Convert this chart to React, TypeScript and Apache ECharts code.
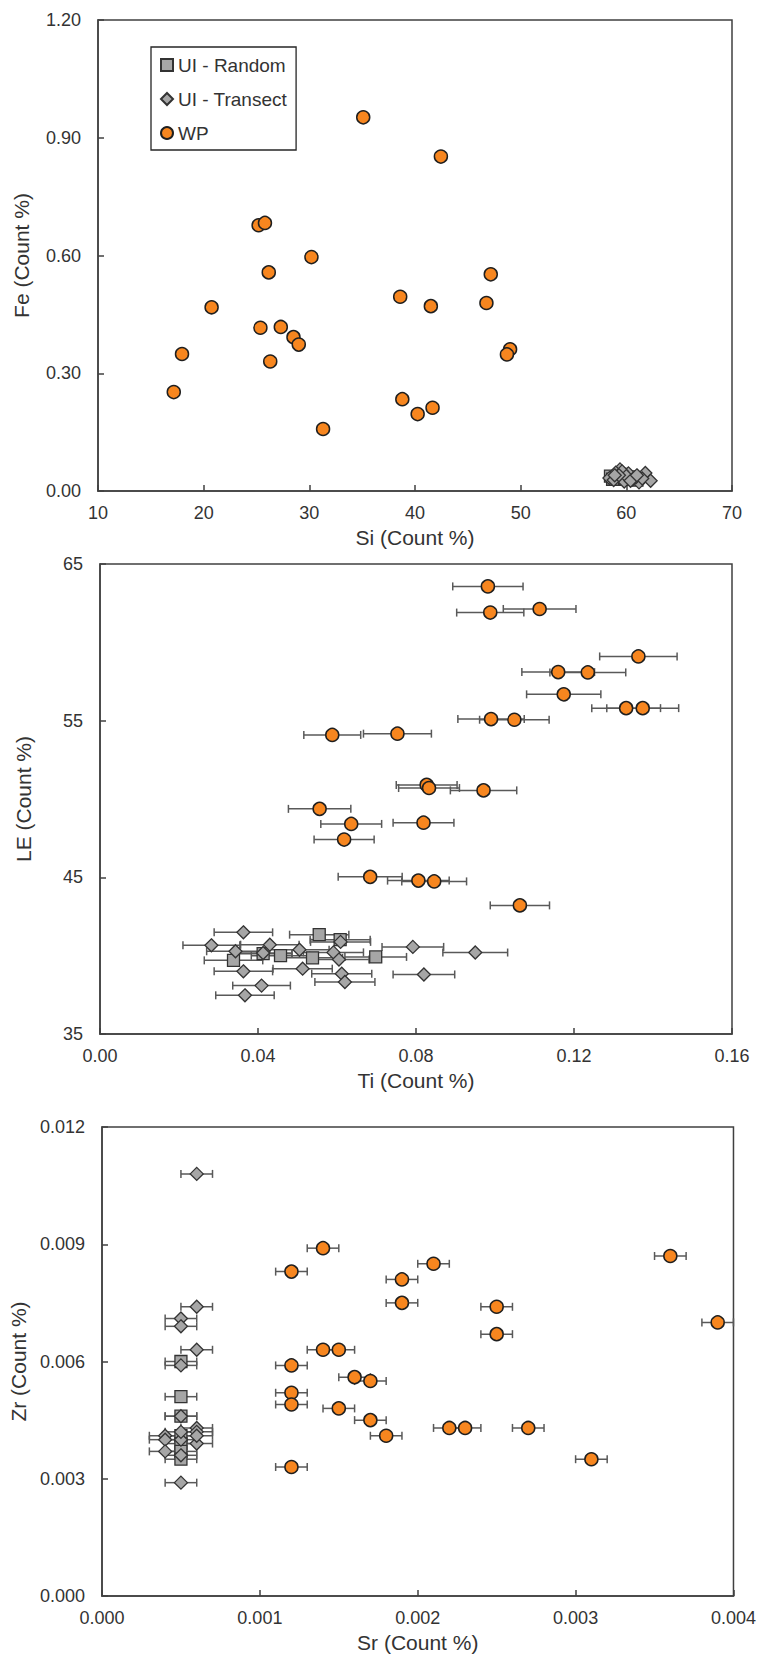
import { useEffect, useRef } from 'react';
import * as echarts from 'echarts';

// Panel 1: Si vs Fe (no error bars)
const siFeRandom = [
  [58.5, 0.038], [59.2, 0.033], [59.9, 0.030], [60.5, 0.036],
  [59.6, 0.042], [61.0, 0.028], [58.7, 0.030],
];
const siFeTransect = [
  [59.4, 0.055], [59.0, 0.047], [58.4, 0.033], [59.8, 0.024], [60.2, 0.045],
  [60.6, 0.030], [61.2, 0.022], [61.8, 0.046], [62.3, 0.026], [60.9, 0.035],
  [59.6, 0.050], [58.8, 0.028], [60.0, 0.038], [61.5, 0.032], [59.3, 0.040],
  [60.4, 0.026], [58.9, 0.040], [61.0, 0.040],
];
const siFeWP = [
  [35.1, 0.952], [42.45, 0.852], [25.2, 0.677], [25.8, 0.683], [30.2, 0.596],
  [26.16, 0.557], [47.17, 0.552], [38.6, 0.495], [20.75, 0.468], [41.5, 0.471],
  [46.76, 0.479], [25.37, 0.416], [27.3, 0.418], [28.5, 0.392], [29.0, 0.373],
  [17.95, 0.349], [49.0, 0.361], [48.7, 0.348], [26.3, 0.330], [17.17, 0.252],
  [38.8, 0.234], [41.66, 0.212], [40.25, 0.196], [31.3, 0.158],
];

// Panel 2: Ti vs LE, [x, y, x error]
const tiLeRandom = [
  [0.0555, 41.34, 0.0075], [0.0608, 41.02, 0.0076], [0.0338, 39.7, 0.0074],
  [0.0413, 40.13, 0.0073], [0.0457, 40.0, 0.0074], [0.0538, 39.86, 0.0076],
  [0.0698, 39.92, 0.0078],
];
const tiLeTransect = [
  [0.0363, 41.49, 0.0074], [0.0282, 40.66, 0.0072], [0.0343, 40.28, 0.0073],
  [0.043, 40.7, 0.0074], [0.0413, 40.17, 0.0073], [0.0505, 40.38, 0.0075],
  [0.0591, 40.21, 0.0076], [0.0609, 40.88, 0.0076], [0.0605, 39.75, 0.0076],
  [0.0792, 40.56, 0.0078], [0.0363, 39.0, 0.0074], [0.0513, 39.17, 0.0075],
  [0.0612, 38.85, 0.0076], [0.062, 38.32, 0.0076], [0.0409, 38.09, 0.0073],
  [0.0367, 37.47, 0.0074], [0.095, 40.2, 0.0082], [0.082, 38.8, 0.0078],
];
const tiLeWP = [
  [0.0982, 63.57, 0.0089], [0.0988, 61.9, 0.0085], [0.1113, 62.13, 0.0092],
  [0.1363, 59.1, 0.0098], [0.116, 58.1, 0.0092], [0.1235, 58.08, 0.0096],
  [0.1174, 56.68, 0.0094], [0.1332, 55.8, 0.0087], [0.1374, 55.8, 0.0091],
  [0.099, 55.1, 0.0084], [0.1049, 55.06, 0.0088], [0.0753, 54.17, 0.0086],
  [0.0588, 54.09, 0.0072], [0.0827, 50.9, 0.0077], [0.0833, 50.7, 0.0077],
  [0.0971, 50.55, 0.0084], [0.0556, 49.37, 0.0079], [0.0636, 48.41, 0.0077],
  [0.0819, 48.49, 0.0077], [0.0618, 47.41, 0.0076], [0.0684, 45.03, 0.0081],
  [0.0806, 44.79, 0.0078], [0.0846, 44.74, 0.0082], [0.1063, 43.21, 0.0075],
];

// Panel 3: Sr vs Zr, [x, y, x error]
const srZrRandom = [
  [0.0005, 0.0060, 0.0001], [0.0005, 0.0051, 0.0001], [0.0005, 0.0046, 0.0001],
  [0.0005, 0.0041, 0.0001], [0.0005, 0.0039, 0.0001], [0.0005, 0.0037, 0.0001],
  [0.0005, 0.0035, 0.0001],
];
const srZrTransect = [
  [0.0006, 0.0108, 0.0001], [0.0006, 0.0074, 0.0001], [0.0005, 0.0071, 0.0001],
  [0.0005, 0.0069, 0.0001], [0.0006, 0.0063, 0.0001], [0.0005, 0.0059, 0.0001],
  [0.0005, 0.0046, 0.0001], [0.0006, 0.0043, 0.0001], [0.0006, 0.0042, 0.0001],
  [0.0004, 0.0041, 0.0001], [0.0004, 0.0040, 0.0001], [0.0005, 0.0040, 0.0001],
  [0.0006, 0.0039, 0.0001], [0.0004, 0.0037, 0.0001], [0.0005, 0.0036, 0.0001],
  [0.0005, 0.0029, 0.0001], [0.0005, 0.0042, 0.0001], [0.0006, 0.0041, 0.0001],
];
const srZrWP = [
  [0.0014, 0.0089, 0.0001], [0.0012, 0.0083, 0.0001], [0.0021, 0.0085, 0.0001],
  [0.0019, 0.0081, 0.0001], [0.0019, 0.0075, 0.0001], [0.0025, 0.0074, 0.0001],
  [0.0025, 0.0067, 0.0001], [0.0036, 0.0087, 0.0001], [0.0039, 0.0070, 0.0001],
  [0.0014, 0.0063, 0.0001], [0.0015, 0.0063, 0.0001], [0.0012, 0.0059, 0.0001],
  [0.0016, 0.0056, 0.0001], [0.0017, 0.0055, 0.0001], [0.0012, 0.0052, 0.0001],
  [0.0012, 0.0049, 0.0001], [0.0015, 0.0048, 0.0001], [0.0017, 0.0045, 0.0001],
  [0.0022, 0.0043, 0.0001], [0.0023, 0.0043, 0.0001], [0.0027, 0.0043, 0.0001],
  [0.0018, 0.0041, 0.0001], [0.0012, 0.0033, 0.0001], [0.0031, 0.0035, 0.0001],
];

const FONT = 'Liberation Sans, Arial, sans-serif';
const TEXT = '#333333';
const AXIS = '#404040';
const ORANGE = '#F7861F';
const GRAY = '#A6A6A6';

function axis(
  idx: number,
  name: string,
  min: number,
  max: number,
  interval: number,
  digits: number,
  isX: boolean
) {
  return {
    type: 'value',
    gridIndex: idx,
    name,
    nameLocation: 'middle',
    nameGap: isX ? 36 : 66,
    nameTextStyle: { fontFamily: FONT, fontSize: 21, color: TEXT },
    min,
    max,
    interval,
    splitLine: { show: false },
    axisLine: { show: true, lineStyle: { color: AXIS, width: 1.5 } },
    axisTick: { show: true, inside: true, length: 6, lineStyle: { color: AXIS, width: 1.5 } },
    axisLabel: {
      fontFamily: FONT,
      fontSize: 18,
      color: TEXT,
      margin: isX ? 13 : 17,
      formatter: (v: number) => v.toFixed(digits),
    },
  };
}

function scatter(name: string, data: number[][], idx: number) {
  const symbol = name === 'WP' ? 'circle' : name === 'UI - Random' ? 'rect' : 'diamond';
  const isWP = name === 'WP';
  return {
    name,
    type: 'scatter',
    xAxisIndex: idx,
    yAxisIndex: idx,
    symbol,
    symbolSize: isWP ? 13 : symbol === 'rect' ? 12 : 13,
    data: data.map((d) => [d[0], d[1]]),
    itemStyle: {
      color: isWP ? ORANGE : GRAY,
      borderColor: isWP ? '#1f1f1f' : '#333333',
      borderWidth: isWP ? 1.5 : 1.3,
      opacity: 1,
    },
    z: 3,
  };
}

function errorBars(data: number[][], idx: number) {
  return {
    type: 'custom',
    xAxisIndex: idx,
    yAxisIndex: idx,
    silent: true,
    z: 2,
    data: data.map((d) => [d[0] - d[2], d[0] + d[2], d[1]]),
    encode: { x: [0, 1], y: 2 },
    renderItem: (_params: any, api: any) => {
      const lo = api.coord([api.value(0), api.value(2)]);
      const hi = api.coord([api.value(1), api.value(2)]);
      const cap = 4;
      const style = { stroke: '#595959', lineWidth: 1.5 };
      return {
        type: 'group',
        children: [
          { type: 'line', shape: { x1: lo[0], y1: lo[1], x2: hi[0], y2: hi[1] }, style },
          { type: 'line', shape: { x1: lo[0], y1: lo[1] - cap, x2: lo[0], y2: lo[1] + cap }, style },
          { type: 'line', shape: { x1: hi[0], y1: hi[1] - cap, x2: hi[0], y2: hi[1] + cap }, style },
        ],
      };
    },
  };
}

export default function App() {
  const chartRef = useRef<HTMLDivElement>(null);

  useEffect(() => {
    if (!chartRef.current) return;
    const chart = echarts.init(chartRef.current, null, { renderer: 'svg' });

    const gridStyle = { show: true, borderColor: AXIS, borderWidth: 1.5, containLabel: false };

    const option: any = {
      animation: false,
      backgroundColor: '#ffffff',
      legend: {
        data: ['UI - Random', 'UI - Transect', 'WP'],
        orient: 'vertical',
        left: 151,
        top: 47,
        itemWidth: 12,
        itemHeight: 12,
        itemGap: 14,
        padding: [8, 9, 7, 9],
        borderColor: '#262626',
        borderWidth: 1.3,
        textStyle: { fontFamily: FONT, fontSize: 19, lineHeight: 20, color: TEXT },
        selectedMode: false,
      },
      grid: [
        { ...gridStyle, left: 98, top: 20, width: 634, height: 471 },
        { ...gridStyle, left: 100, top: 564, width: 632, height: 470 },
        { ...gridStyle, left: 102, top: 1127, width: 634, height: 470 },
      ],
      xAxis: [
        axis(0, 'Si (Count %)', 10, 70, 10, 0, true),
        axis(1, 'Ti (Count %)', 0, 0.16, 0.04, 2, true),
        axis(2, 'Sr (Count %)', 0, 0.004, 0.001, 3, true),
      ],
      yAxis: [
        axis(0, 'Fe (Count %)', 0, 1.2, 0.3, 2, false),
        axis(1, 'LE (Count %)', 35, 65, 10, 0, false),
        axis(2, 'Zr (Count %)', 0, 0.012, 0.003, 3, false),
      ],
      series: [
        scatter('UI - Random', siFeRandom, 0),
        scatter('UI - Transect', siFeTransect, 0),
        scatter('WP', siFeWP, 0),
        errorBars(tiLeRandom, 1),
        errorBars(tiLeTransect, 1),
        errorBars(tiLeWP, 1),
        scatter('UI - Random', tiLeRandom, 1),
        scatter('UI - Transect', tiLeTransect, 1),
        scatter('WP', tiLeWP, 1),
        errorBars(srZrRandom, 2),
        errorBars(srZrTransect, 2),
        errorBars(srZrWP, 2),
        scatter('UI - Random', srZrRandom, 2),
        scatter('UI - Transect', srZrTransect, 2),
        scatter('WP', srZrWP, 2),
      ],
    };

    chart.setOption(option);
    return () => {
      chart.dispose();
    };
  }, []);

  return (
    <div
      ref={chartRef}
      style={{ position: 'absolute', left: 0, top: 0, width: 759, height: 1654, background: '#fff' }}
    />
  );
}
